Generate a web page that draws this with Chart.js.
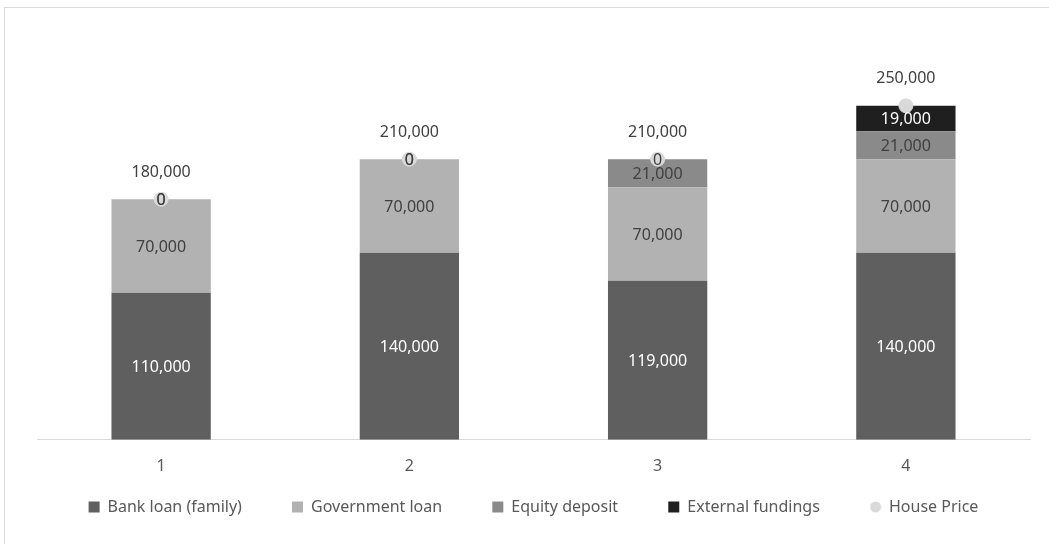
<!DOCTYPE html>
<html>
<head>
<meta charset="utf-8">
<script src="https://cdn.jsdelivr.net/npm/chart.js@4.4.0/dist/chart.umd.min.js"></script>
<style>
  html, body { margin: 0; padding: 0; background: #fff; }
  #frame { position: absolute; left: 4px; top: 7px; width: 1100px; height: 600px; border: 1px solid #d9d9d9; }
  #wrap { position: absolute; left: 0; top: 0; width: 1049px; height: 544px; }
</style>
</head>
<body>
<div id="frame"></div>
<div id="wrap"><canvas id="chart"></canvas></div>
<script>
// Financement maison — empilé par scénario
const categories = ["1", "2", "3", "4"];
const bankLoan = [110000, 140000, 119000, 140000];
const govLoan = [70000, 70000, 70000, 70000];
const equityDeposit = [0, 0, 21000, 21000];
const externalFundings = [0, 0, 0, 19000];
const housePrice = [180000, 210000, 210000, 250000];

const fontFamily = "'Noto Sans', sans-serif";
const fmt = v => v.toLocaleString("en-US");

// couleur du texte pour chaque série
const labelColors = ["#ffffff", "#404040", "#404040", "#ffffff"];

// petit rond pour la légende "House Price"
const dot = document.createElement("canvas");
dot.width = 12;
dot.height = 12;
const dctx = dot.getContext("2d");
dctx.fillStyle = "#d9d9d9";
dctx.beginPath();
dctx.arc(6, 6, 5.5, 0, Math.PI * 2);
dctx.fill();

const ctx = document.getElementById("chart").getContext("2d");

const valueLabels = {
  id: "valueLabels",
  afterDatasetsDraw: chart => {
    const c = chart.ctx;
    c.save();
    c.font = "16px " + fontFamily;
    c.textAlign = "center";
    c.textBaseline = "middle";
    chart.data.datasets.forEach((ds, di) => {
      const meta = chart.getDatasetMeta(di);
      meta.data.forEach((el, i) => {
        const v = ds.data[i];
        if (ds.type === "line") {
          c.fillStyle = "#404040";
          c.fillText(fmt(v), el.x, el.y - 27);
        } else {
          c.fillStyle = v === 0 ? "#404040" : labelColors[di];
          c.fillText(fmt(v), el.x, (el.y + el.base) / 2 + 1);
        }
      });
    });
    c.restore();
  }
};

new Chart(ctx, {
  type: "bar",
  data: {
    labels: categories,
    datasets: [
      { label: "Bank loan (family)", data: bankLoan, backgroundColor: "#5f5f5f", order: 1, pointStyle: "rect" },
      { label: "Government loan", data: govLoan, backgroundColor: "#b2b2b2", order: 1, pointStyle: "rect" },
      { label: "Equity deposit", data: equityDeposit, backgroundColor: "#8a8a8a", order: 1, pointStyle: "rect" },
      { label: "External fundings", data: externalFundings, backgroundColor: "#1f1f1f", order: 1, pointStyle: "rect" },
      {
        type: "line",
        label: "House Price",
        data: housePrice,
        showLine: false,
        pointStyle: "circle",
        pointRadius: 7,
        pointHoverRadius: 7,
        pointBackgroundColor: "#d9d9d9",
        pointBorderColor: "#d9d9d9",
        backgroundColor: "#d9d9d9",
        borderColor: "#d9d9d9",
        order: 0
      }
    ]
  },
  options: {
    responsive: true,
    maintainAspectRatio: false,
    animation: false,
    layout: { padding: { left: 37, right: 19, top: 39, bottom: 19 } },
    datasets: { bar: { barPercentage: 0.5, categoryPercentage: 0.8 } },
    scales: {
      x: {
        stacked: true,
        grid: { display: false, drawTicks: false },
        border: { display: true, color: "#d9d9d9", width: 1 },
        ticks: { color: "#595959", font: { family: fontFamily, size: 16 }, padding: 17 }
      },
      y: {
        stacked: true,
        display: false,
        min: 0,
        max: 300000
      }
    },
    plugins: {
      legend: {
        position: "bottom",
        labels: {
          boxWidth: 11,
          boxHeight: 11,
          padding: 6,
          color: "#595959",
          font: { family: fontFamily, size: 16 },
          generateLabels: chart => {
            const items = Chart.defaults.plugins.legend.labels.generateLabels(chart);
            items.sort((a, b) => a.datasetIndex - b.datasetIndex);
            return items.map((it, i) => {
              const last = i === items.length - 1;
              return Object.assign(it, {
                text: last ? it.text : it.text + "\u2002\u2002\u2002\u2002\u2002 ",
                pointStyle: last ? dot : "rect",
                lineWidth: 0
              });
            });
          },
          usePointStyle: true
        }
      },
      tooltip: { enabled: false }
    }
  },
  plugins: [valueLabels]
});
</script>
</body>
</html>
